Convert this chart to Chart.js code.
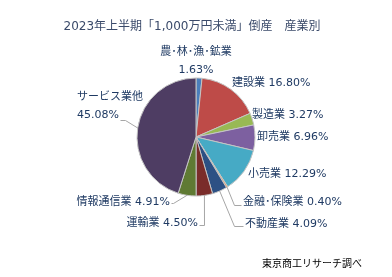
<!DOCTYPE html>
<html><head><meta charset="utf-8">
<script src="https://cdn.jsdelivr.net/npm/chart.js@4"></script>
<style>html,body{margin:0;padding:0;background:#fff;overflow:hidden}#wrap{width:392px;height:277px;position:relative}</style>
</head><body><div id="wrap"><canvas id="c" width="392" height="277"></canvas></div>
<script>
const title = '2023年上半期「1,000万円未満」倒産\u3000産業別';
const source = '東京商工リサーチ調べ';
const categories = ['農･林･漁･鉱業', '建設業', '製造業', '卸売業', '小売業', '金融･保険業', '不動産業', '運輸業', '情報通信業', 'サービス業他'];
const shares = [1.63, 16.80, 3.27, 6.96, 12.29, 0.40, 4.09, 4.50, 4.91, 45.08];
const colors = ['#4a7ebb', '#be4b48', '#98b954', '#7d60a0', '#46aac5', '#f59d56', '#2c5084', '#7a2c2a', '#5f7a33', '#4e3d63'];

// label placement relative to pie centre (layout only)
const labelLayout = [
  {dx: 0, dy: -76, align: 'center', twoLines: true},
  {dx: 36, dy: -54, align: 'left'},
  {dx: 56, dy: -22, align: 'left'},
  {dx: 61, dy: 0, align: 'left'},
  {dx: 52, dy: 37, align: 'left'},
  {dx: 47, dy: 65, align: 'left', leader: {side: 'left', gap: 2, stub: 7, ly: 3}},
  {dx: 49, dy: 87, align: 'left', leader: {side: 'left', gap: 2, stub: 9, ly: 2}},
  {dx: 2, dy: 86, align: 'right', leader: {side: 'right', gap: 1, stub: 5, ly: 2}},
  {dx: -26, dy: 65, align: 'right', leader: {side: 'right', gap: 1, stub: 2, ly: 1}},
  {dx: -119, dy: -31, align: 'left', twoLines: true, leader: {side: 'right', gap: 1, stub: 5, ly: 5}}
];

const FONT = '"DejaVu Sans", "Noto Sans CJK JP", sans-serif';
const LABEL_COLOR = '#1f3a63';

const labelPlugin = {
  id: 'pieLabels',
  afterDraw(chart) {
    const ctx = chart.ctx;
    const meta = chart.getDatasetMeta(0);
    ctx.save();
    ctx.font = '12px ' + FONT;
    ctx.fillStyle = '#3a4a6a';
    ctx.textAlign = 'center';
    ctx.textBaseline = 'middle';
    ctx.fillText(title, 192, 27);
    ctx.font = '10px ' + FONT;
    ctx.fillStyle = '#000';
    ctx.textAlign = 'left';
    ctx.fillText(source, 262, 264);

    ctx.font = '11px ' + FONT;
    meta.data.forEach((arc, i) => {
      const L = labelLayout[i];
      const cx = arc.x, cy = arc.y;
      const val = shares[i].toFixed(2) + '%';
      const lines = L.twoLines ? [categories[i], val] : [categories[i] + ' ' + val];
      const ax = cx + L.dx, ay = cy + L.dy;
      const lh = 18;
      ctx.textAlign = L.align;
      ctx.textBaseline = 'middle';
      ctx.fillStyle = LABEL_COLOR;
      lines.forEach((t, k) => {
        const y = ay + (k - (lines.length - 1) / 2) * lh;
        ctx.fillText(t, ax, y);
      });
      if (L.leader) {
        const last = lines[lines.length - 1];
        const w = ctx.measureText(last).width;
        let left, right;
        if (L.align === 'left') { left = ax; right = ax + w; }
        else if (L.align === 'right') { left = ax - w; right = ax; }
        else { left = ax - w / 2; right = ax + w / 2; }
        const ly = ay + ((lines.length - 1) / 2) * lh + L.leader.ly;
        const mid = (arc.startAngle + arc.endAngle) / 2;
        const R = arc.outerRadius;
        const ex = cx + R * Math.cos(mid), ey = cy + R * Math.sin(mid);
        let x0, x1;
        if (L.leader.side === 'left') { x0 = left - L.leader.gap; x1 = x0 - L.leader.stub; }
        else { x0 = right + L.leader.gap; x1 = x0 + L.leader.stub; }
        ctx.beginPath();
        ctx.strokeStyle = '#a6a6a6';
        ctx.lineWidth = 1;
        ctx.moveTo(Math.round(x0) + 0.5, Math.round(ly) + 0.5);
        ctx.lineTo(Math.round(x1) + 0.5, Math.round(ly) + 0.5);
        ctx.lineTo(ex, ey);
        ctx.stroke();
      }
    });
    ctx.restore();
  }
};

new Chart(document.getElementById('c'), {
  type: 'pie',
  data: {
    labels: categories,
    datasets: [{
      data: shares,
      backgroundColor: colors,
      borderColor: '#c4c4c4',
      borderWidth: 1,
      radius: 59
    }]
  },
  options: {
    responsive: false,
    animation: false,
    devicePixelRatio: 1,
    layout: {padding: {top: 0, bottom: 3, left: 0, right: 0}},
    plugins: {legend: {display: false}, tooltip: {enabled: false}, title: {display: false}}
  },
  plugins: [labelPlugin]
});
</script>
</body></html>
